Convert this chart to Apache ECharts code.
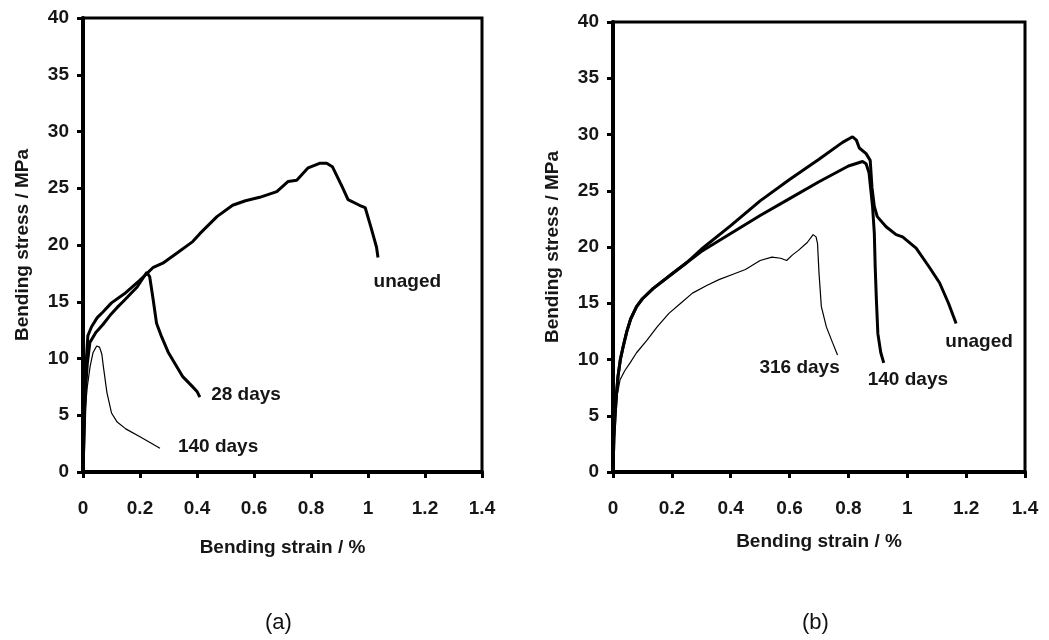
<!DOCTYPE html>
<html>
<head>
<meta charset="utf-8">
<script src="https://cdn.jsdelivr.net/npm/echarts@6/dist/echarts.min.js"></script>
<style>html,body{margin:0;padding:0;background:#fff;}#c{width:1049px;height:640px;}</style>
</head>
<body>
<div id="c"></div>
<script>
// ---- Data: panel (a) ----
const aUnaged = [[0,0],[0.006,6],[0.012,10],[0.017,12],[0.03,12.8],[0.05,13.6],[0.07,14.1],[0.1,14.9],[0.15,15.8],[0.2,16.9],[0.245,18],[0.28,18.4],[0.33,19.3],[0.385,20.3],[0.41,21],[0.47,22.5],[0.525,23.5],[0.57,23.9],[0.62,24.2],[0.68,24.7],[0.72,25.6],[0.75,25.7],[0.79,26.8],[0.83,27.2],[0.855,27.2],[0.875,26.9],[0.91,25.1],[0.93,24],[0.97,23.5],[0.99,23.3],[1.01,21.6],[1.03,19.8],[1.035,18.9]];
const a28days = [[0,0],[0.008,7],[0.015,9.5],[0.024,11.4],[0.045,12.3],[0.07,13],[0.095,13.8],[0.12,14.5],[0.14,15],[0.19,16.3],[0.224,17.6],[0.234,17.2],[0.245,15.4],[0.258,13.1],[0.276,11.9],[0.3,10.5],[0.35,8.4],[0.385,7.5],[0.4,7.1],[0.41,6.6]];
const a140days = [[0,0],[0.006,5],[0.015,7.5],[0.025,9.3],[0.035,10.5],[0.048,11.1],[0.058,11],[0.066,10.4],[0.072,9.2],[0.084,7],[0.1,5.2],[0.12,4.4],[0.15,3.8],[0.2,3.1],[0.235,2.6],[0.27,2.1]];
// ---- Data: panel (b) ----
const bUnaged = [[0,0],[0.003,3],[0.007,5],[0.012,7],[0.017,8.5],[0.025,10],[0.035,11.2],[0.047,12.5],[0.06,13.6],[0.08,14.7],[0.1,15.4],[0.136,16.3],[0.2,17.6],[0.25,18.6],[0.3,19.8],[0.4,21.9],[0.5,24.1],[0.6,26.0],[0.7,27.8],[0.78,29.3],[0.814,29.8],[0.827,29.5],[0.837,28.8],[0.86,28.3],[0.874,27.7],[0.88,25.3],[0.888,23.6],[0.898,22.7],[0.928,21.8],[0.962,21.1],[0.984,20.9],[1.03,19.9],[1.075,18.2],[1.11,16.8],[1.14,15],[1.166,13.2]];
const b140days = [[0,0],[0.003,3],[0.007,5],[0.012,7],[0.017,8.5],[0.025,10],[0.035,11.2],[0.047,12.5],[0.06,13.6],[0.08,14.7],[0.1,15.4],[0.136,16.3],[0.2,17.6],[0.25,18.6],[0.3,19.6],[0.4,21.2],[0.5,22.8],[0.6,24.3],[0.7,25.8],[0.8,27.2],[0.848,27.6],[0.86,27.4],[0.87,26.6],[0.882,23.6],[0.888,21.2],[0.891,18.2],[0.895,15.3],[0.9,12.3],[0.91,10.6],[0.92,9.7]];
const b316days = [[0,0],[0.005,4],[0.012,6.5],[0.024,8.2],[0.04,9],[0.058,9.7],[0.08,10.6],[0.115,11.7],[0.15,12.9],[0.19,14.1],[0.23,15],[0.27,15.9],[0.32,16.6],[0.36,17.1],[0.41,17.6],[0.45,18],[0.5,18.8],[0.54,19.1],[0.57,19.0],[0.59,18.8],[0.61,19.3],[0.63,19.7],[0.66,20.4],[0.68,21.1],[0.69,20.9],[0.695,20.3],[0.70,17.7],[0.708,14.7],[0.725,12.9],[0.746,11.5],[0.763,10.4]];
// ---- Annotation labels (data units) ----
const aLabels = [['unaged',1.138,16.8],['28 days',0.572,6.8],['140 days',0.474,2.2]];
const bLabels = [['316 days',0.634,9.3],['140 days',1.002,8.2],['unaged',1.244,11.6]];
// ---- Axis settings ----
const xMin = 0, xMax = 1.4, xStep = 0.2;
const yMin = 0, yMax = 40, yStep = 5;
const xTitle = 'Bending strain / %';
const yTitle = 'Bending stress / MPa';
const panelTitles = ['(a)', '(b)'];

const FONT = 'Liberation Sans, Arial, sans-serif';
const TXT = '#161616';
function xAxisCfg(gi, gap) {
  return {
    type: 'value', gridIndex: gi, min: xMin, max: xMax, interval: xStep,
    name: xTitle, nameLocation: 'middle', nameGap: gap,
    nameTextStyle: {fontFamily: FONT, fontSize: 19, fontWeight: 'bold', color: TXT},
    axisLine: {lineStyle: {color: '#000', width: 4}},
    axisTick: {show: true, length: 6, lineStyle: {color: '#000', width: 3}},
    axisLabel: {fontFamily: FONT, fontSize: 19, fontWeight: 'bold', color: TXT, margin: 27,
      formatter: v => String(+v.toFixed(1))},
    splitLine: {show: false}
  };
}
function yAxisCfg(gi) {
  return {
    type: 'value', gridIndex: gi, min: yMin, max: yMax, interval: yStep,
    name: yTitle, nameLocation: 'middle', nameGap: 51,
    nameTextStyle: {fontFamily: FONT, fontSize: 19, fontWeight: 'bold', color: TXT},
    axisLine: {lineStyle: {color: '#000', width: 4}},
    axisTick: {show: true, length: 6, lineStyle: {color: '#000', width: 3}},
    axisLabel: {fontFamily: FONT, fontSize: 19, fontWeight: 'bold', color: TXT, margin: 14},
    splitLine: {show: false}
  };
}
function line(data, gi, w) {
  return {type: 'line', xAxisIndex: gi, yAxisIndex: gi, data: data, showSymbol: false, symbol: 'none',
    lineStyle: {color: '#000', width: w}, z: 3, animation: false};
}
function labels(list, gi) {
  return {type: 'scatter', xAxisIndex: gi, yAxisIndex: gi, symbolSize: 0, silent: true, animation: false,
    itemStyle: {opacity: 1, color: TXT},
    data: list.map(d => ({value: [d[1], d[2]], name: d[0]})),
    label: {show: true, position: 'inside', formatter: p => p.name, opacity: 1,
      fontFamily: FONT, fontSize: 19, fontWeight: 'bold', color: TXT, align: 'center', verticalAlign: 'middle'}};
}

const chart = echarts.init(document.getElementById('c'), null, {renderer: 'canvas'});
chart.setOption({
  backgroundColor: '#fff',
  animation: false,
  grid: [
    {left: 83, top: 18, width: 399, height: 454, show: true, borderColor: '#000', borderWidth: 3, backgroundColor: 'transparent'},
    {left: 613, top: 22, width: 412, height: 450, show: true, borderColor: '#000', borderWidth: 3, backgroundColor: 'transparent'}
  ],
  xAxis: [xAxisCfg(0, 66), xAxisCfg(1, 60)],
  yAxis: [yAxisCfg(0), yAxisCfg(1)],
  graphic: [
    {type: 'text', left: 280 - 15, top: 612, style: {text: panelTitles[0], font: '22px ' + FONT, fill: '#111'}},
    {type: 'text', left: 817 - 15, top: 612, style: {text: panelTitles[1], font: '22px ' + FONT, fill: '#111'}}
  ],
  series: [
    line(aUnaged, 0, 3), line(a28days, 0, 3), line(a140days, 0, 1.2),
    line(bUnaged, 1, 3), line(b140days, 1, 3), line(b316days, 1, 1.2),
    labels(aLabels, 0), labels(bLabels, 1)
  ]
});
</script>
</body>
</html>
